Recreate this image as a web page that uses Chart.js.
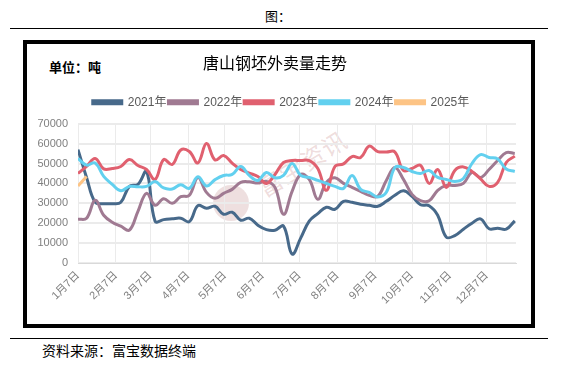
<!DOCTYPE html>
<html>
<head>
<meta charset="utf-8">
<script src="https://cdn.jsdelivr.net/npm/chart.js@4.4.1/dist/chart.umd.min.js"></script>
<style>
  html, body { margin: 0; padding: 0; background: #fff; }
  body { width: 561px; height: 367px; position: relative; overflow: hidden; font-family: 'Noto Sans CJK SC', sans-serif; }
  .hd { position: absolute; left: 0; top: 6px; width: 556px; text-align: center; font-size: 13px; line-height: 20px; }
  .rule { position: absolute; left: 10px; width: 538px; height: 1px; background: #000; }
  .box { position: absolute; left: 23px; top: 40px; width: 512px; height: 288px; border: 4px solid #000; box-sizing: border-box; }
  .unit { position: absolute; left: 49px; top: 58px; font-size: 13px; font-weight: bold; line-height: 18px; }
  .src { position: absolute; left: 42px; top: 340px; font-size: 14px; line-height: 20px; }
  .logo { position: absolute; left: 213px; top: 185px; width: 36px; height: 36px; border-radius: 50%; background: rgba(200, 150, 150, 0.3); }
  .mark { position: absolute; left: 252px; top: 150px; font-size: 24px; line-height: 26px; color: rgba(200, 140, 140, 0.3); transform: rotate(-32deg); letter-spacing: 1px; }
  .wrap { position: absolute; left: 0; top: 0; width: 561px; height: 367px; }
</style>
</head>
<body>
<div class="hd">图：</div>
<div class="rule" style="top:28px"></div>
<div class="box"></div>
<div class="unit">单位：吨</div>
<div class="logo"></div>
<div class="mark">富宝资讯</div>
<div class="rule" style="top:338px"></div>
<div class="src">资料来源：富宝数据终端</div>
<div class="wrap"><canvas id="chart"></canvas></div>

<script>
// day of year for each weekly reading
const days = [7, 14, 21, 28, 35, 42, 49, 56, 63, 70, 77, 84, 91, 98, 105, 112, 119, 126, 133, 140,
  147, 154, 161, 168, 175, 182, 189, 196, 203, 210, 217, 224, 231, 238, 245, 252, 259, 266, 273, 280,
  287, 294, 301, 308, 315, 322, 329, 336, 343, 350, 357, 364];

// x axis ticks: the 7th of each month
const tickDays = [7, 38, 66, 97, 127, 158, 188, 219, 250, 280, 311, 341];
const tickLabels = ['1月7日', '2月7日', '3月7日', '4月7日', '5月7日', '6月7日',
  '7月7日', '8月7日', '9月7日', '10月7日', '11月7日', '12月7日'];

const seriesNames = ['2021年', '2022年', '2023年', '2024年', '2025年'];

const s2021 = [57000, 43000, 30500, 29800, 29800, 30500, 38500, 39500, 46000, 21000,
  21800, 22200, 22500, 20800, 28800, 27500, 28500, 24500, 25500, 21500,
  22500, 19000, 16800, 16500, 18500, 4500, 12500, 21000, 24800, 28000,
  27000, 31000, 30500, 29500, 29000, 28500, 31000, 34000, 36300, 33500,
  29300, 28800, 24000, 13000, 13800, 17000, 20000, 22200, 17200, 17500,
  17000, 21200];
const s2022 = [22000, 22500, 31500, 24000, 20500, 18500, 16500, 26000, 35000, 29000,
  32300, 30000, 33300, 34000, 43000, 35500, 32500, 35000, 37000, 40500,
  40800, 40200, 41000, 38000, 24500, 36000, 44500, 42000, 32000, 40500,
  42800, 40000, 38000, 36000, 34000, 33500, 41500, 48000, 42000, 34500,
  31300, 31300, 36500, 39000, 39000, 40000, 45500, 43000, 47000, 51500,
  55500, 55000];
const s2023 = [45000, 48500, 52500, 47300, 47500, 48500, 52000, 49000, 47000, 42000,
  52000, 49500, 56800, 56000, 50300, 60000, 51800, 54000, 50200, 47000,
  45200, 43500, 40000, 44500, 50500, 51500, 51500, 51500, 47500, 36500,
  48500, 49800, 53500, 53000, 58700, 56000, 55800, 55800, 46500, 47500,
  49000, 40000, 47000, 38000, 46500, 48300, 46000, 42300, 38500, 40500,
  50500, 53700];
const s2024 = [52500, 49200, 50300, 43500, 39500, 36300, 38500, 38300, 38500, 40900,
  37700, 37200, 39300, 37500, 43300, 38700, 41900, 44000, 44500, 48500,
  44000, 41500, 45500, 42800, 44000, 50000, 44000, 43000, 41500, 40000,
  38500, 37500, 44000, 37000, 35500, 33200, 35500, 48000, 48000, 46000,
  45000, 46500, 43000, 42000, 41000, 42500, 50000, 54500, 53000, 52300,
  47200, 46000];
const s2025 = [38700, 43500];

const allSeries = [s2021, s2022, s2023, s2024, s2025];
const colors = ['#47698a', '#a07a92', '#e0606f', '#62d0ef', '#fdc485'];

const latinFont = "'Liberation Sans', 'Noto Sans CJK SC', sans-serif";

const datasets = allSeries.map(function(vals, k) {
  return {
    label: seriesNames[k],
    data: vals.map((v, i) => ({ x: days[i], y: v })),
    borderColor: colors[k],
    backgroundColor: colors[k],
    borderWidth: 3,
    pointRadius: 0,
    tension: 0.4,
    fill: false,
    order: allSeries.length - k
  };
});

// extra room under the legend, and nudge it right a little
const legendTweak = {
  id: 'legendTweak',
  beforeInit(chart) {
    const legend = chart.legend;
    const fit = legend.fit;
    legend.fit = function() {
      fit.call(legend);
      this.height += 5.5;
    };
    const draw = legend.draw;
    legend.draw = function() {
      const ctx = this.ctx;
      ctx.save();
      ctx.translate(6, 0);
      draw.call(legend);
      ctx.restore();
    };
  }
};

new Chart(document.getElementById('chart'), {
  type: 'line',
  data: { datasets: datasets },
  plugins: [legendTweak],
  options: {
    responsive: true,
    maintainAspectRatio: false,
    animation: false,
    layout: { padding: { top: 44, left: 34, right: 45, bottom: 43 } },
    scales: {
      x: {
        type: 'linear',
        min: 7,
        max: 365,
        afterBuildTicks: function(scale) {
          scale.ticks = tickDays.map(v => ({ value: v }));
        },
        afterFit: function(scale) { scale.height = 61; },
        ticks: {
          autoSkip: false,
          maxRotation: 45,
          minRotation: 45,
          padding: 6,
          color: '#7f7f7f',
          font: { family: latinFont, size: 11 },
          callback: (v, i) => tickLabels[i]
        },
        grid: { color: '#ebebeb', lineWidth: 1, drawTicks: false },
        border: { color: '#d9d9d9' }
      },
      y: {
        min: 0,
        max: 70000,
        afterFit: function(scale) { scale.width = 44; },
        ticks: {
          stepSize: 10000,
          padding: 10,
          color: '#7f7f7f',
          font: { family: latinFont, size: 11 },
          callback: v => String(v)
        },
        grid: { color: '#ebebeb', lineWidth: 2, drawTicks: false },
        border: { display: false }
      }
    },
    plugins: {
      title: {
        display: true,
        text: '唐山钢坯外卖量走势',
        color: '#000',
        font: { family: "'Noto Sans CJK SC', sans-serif", size: 16, weight: 'normal' },
        padding: { top: 9, bottom: 22 }
      },
      legend: {
        display: true,
        labels: {
          boxWidth: 29,
          boxHeight: 3,
          padding: 2,
          color: '#595959',
          font: { family: latinFont, size: 12 },
          sort: (a, b) => a.datasetIndex - b.datasetIndex
        }
      },
      tooltip: { enabled: false }
    }
  }
});
</script>
</body>
</html>
